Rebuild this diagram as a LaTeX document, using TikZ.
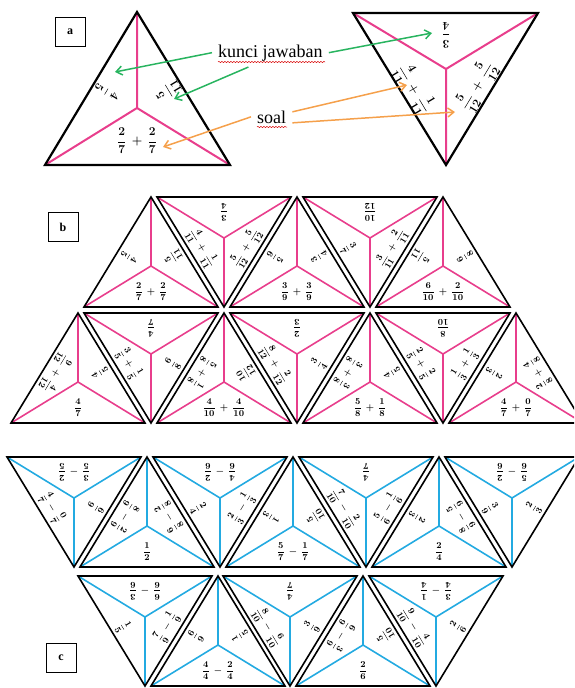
\documentclass[tikz,border=0pt]{standalone}
\usepackage{amsmath}
\usepackage{fontspec}
\setmainfont{Liberation Serif}
\usetikzlibrary{arrows.meta,decorations.pathmorphing}
\definecolor{pinkline}{RGB}{232,62,140}
\definecolor{blauline}{RGB}{35,170,225}
\definecolor{kjgruen}{RGB}{40,180,95}
\definecolor{soalorange}{RGB}{245,160,75}

\begin{document}
\begin{tikzpicture}[x=1pt, y=-1pt,
				>={Straight Barb[length=6pt,width=9pt]},   %Pfeilspitzen
				rand/.style={draw=black, line width=1.6pt, line join=miter},
				speiche/.style={line width=1.6pt},
				bruch/.style={inner sep=0pt, font=\boldmath\fontsize{9.5}{11}\selectfont},
				grossbruch/.style={inner sep=0pt, font=\boldmath\fontsize{12.5}{14}\selectfont},
				kasten/.style={draw, line width=0.8pt, minimum width=30pt, minimum height=29pt, font=\bfseries\fontsize{12}{14}\selectfont},
				hinweis/.style={inner sep=6pt, font=\fontsize{18}{20}\selectfont},
				wellig/.style={draw=red!85!black, line width=0.5pt, decorate, decoration={snake, amplitude=0.6pt, segment length=3pt}},
				kjpfeil/.style={->, draw=kjgruen, line width=1.5pt},
				soalpfeil/.style={->, draw=soalorange, line width=1.5pt}]
				\useasboundingbox (0,0) rectangle (574,688);
				\clip (0,0) rectangle (574,688); %Bildbereich
				% Teil a: Stein mit Spitze oben
				\coordinate (aL-o) at (137,12);
				\coordinate (aL-l) at (45,165);
				\coordinate (aL-r) at (230,165);
				\coordinate (aL-m) at (137,108);
				\draw[speiche, pinkline, line width=2pt] (aL-m) -- (aL-o) (aL-m) -- (aL-l) (aL-m) -- (aL-r);
				\draw[rand, line width=2.2pt] (aL-o) -- (aL-l) -- (aL-r) -- cycle;
				\node[grossbruch, rotate=-121] (aL-1) at (107,92) {$\dfrac{4}{5}$};
				\node[grossbruch, rotate=121] (aL-2) at (168,91) {$\dfrac{5}{11}$};
				\node[grossbruch] (aL-3) at (137,141) {$\dfrac{2}{7}\,+\,\dfrac{2}{7}$};
				% Teil a: Stein mit Spitze unten
				\coordinate (aR-l) at (353,13);
				\coordinate (aR-r) at (538,13);
				\coordinate (aR-u) at (446,165);
				\coordinate (aR-m) at (446,69);
				\draw[speiche, pinkline, line width=2pt] (aR-m) -- (aR-l) (aR-m) -- (aR-r) (aR-m) -- (aR-u);
				\draw[rand, line width=2.2pt] (aR-l) -- (aR-r) -- (aR-u) -- cycle;
				\node[grossbruch, rotate=180] (aR-1) at (446,35) {$\dfrac{3}{4}$};
				\node[grossbruch, rotate=-59] (aR-2) at (414,89) {$\dfrac{4}{11}\,+\,\dfrac{1}{11}$};
				\node[grossbruch, rotate=59] (aR-3) at (477,86) {$\dfrac{5}{12}\,+\,\dfrac{5}{12}$};
				% Beschriftung mit Pfeilen
				\node[hinweis, anchor=base west] (kj) at (212,57) {kunci jawaban};
				\node[hinweis, anchor=base west] (soal) at (251,123) {soal};
				\draw[wellig] (218,62) -- (325,62);
				\draw[wellig] (257,127) -- (287,127);
				\coordinate (ziel1) at (115,72);
				\coordinate (ziel2) at (174,99);
				\coordinate (ziel3) at (432,33);
				\coordinate (ziel4) at (163,147);
				\coordinate (ziel5) at (407,85);
				\coordinate (ziel6) at (455,112);
				\draw[kjpfeil] (kj.west) -- (ziel1);
				\draw[kjpfeil] ([xshift=-22pt]kj.south) -- (ziel2);
				\draw[kjpfeil] (kj.east) -- (ziel3);
				\draw[soalpfeil] (soal.west) -- (ziel4);
				\draw[soalpfeil] ([yshift=5pt]soal.east) -- (ziel5);
				\draw[soalpfeil] ([yshift=-6pt]soal.east) -- (ziel6);
				% Teile b und c: Steine mit Spitze oben
				\foreach \x/\y/\f/\n/\lt/\rt/\bt in {
					151/197/pinkline/b1a/{$\dfrac{4}{5}$}/{$\dfrac{5}{11}$}/{$\dfrac{2}{7}\,+\,\dfrac{2}{7}$},
					297/197/pinkline/b1c/{$\dfrac{5}{6}$}/{$\dfrac{3}{4}$}/{$\dfrac{3}{9}\,+\,\dfrac{3}{9}$},
					443/197/pinkline/b1e/{$\dfrac{5}{11}$}/{$\dfrac{6}{8}$}/{$\dfrac{6}{10}\,+\,\dfrac{2}{10}$},
					78/313/pinkline/b2a/{$\dfrac{9}{12}\,+\,\dfrac{4}{12}$}/{$\dfrac{4}{5}$}/{$\dfrac{4}{7}$},
					224/313/pinkline/b2c/{$\dfrac{5}{8}\,+\,\dfrac{1}{8}$}/{$\dfrac{10}{12}$}/{$\dfrac{4}{10}\,+\,\dfrac{4}{10}$},
					370/313/pinkline/b2e/{$\dfrac{3}{8}\,+\,\dfrac{3}{8}$}/{$\dfrac{4}{5}$}/{$\dfrac{5}{8}\,+\,\dfrac{1}{8}$},
					516/313/pinkline/b2g/{$\dfrac{2}{3}$}/{$\dfrac{2}{8}\,+\,\dfrac{4}{8}$}/{$\dfrac{4}{7}\,+\,\dfrac{0}{7}$},
					147/457/blauline/c1b/{$\dfrac{8}{9}\,-\,\dfrac{2}{9}$}/{$\dfrac{6}{8}\,-\,\dfrac{2}{8}$}/{$\dfrac{1}{2}$},
					293/457/blauline/c1d/{$\dfrac{1}{3}$}/{$\dfrac{5}{10}$}/{$\dfrac{5}{7}\,-\,\dfrac{1}{7}$},
					439/457/blauline/c1f/{$\dfrac{2}{3}$}/{$\dfrac{8}{9}\,-\,\dfrac{5}{9}$}/{$\dfrac{2}{4}$},
					218/576/blauline/c2b/{$\dfrac{6}{9}$}/{$\dfrac{1}{5}$}/{$\dfrac{4}{4}\,-\,\dfrac{2}{4}$},
					363/576/blauline/c2d/{$\dfrac{6}{9}\,-\,\dfrac{3}{9}$}/{$\dfrac{5}{10}$}/{$\dfrac{2}{6}$}}{
					\coordinate (\n-o) at (\x,\y);
					\coordinate (\n-l) at (\x-67,\y+110);
					\coordinate (\n-r) at (\x+67,\y+110);
					\coordinate (\n-m) at (\x,\y+69);
					\draw[speiche, \f] (\n-m) -- (\n-o) (\n-m) -- (\n-l) (\n-m) -- (\n-r);
					\draw[rand] (\n-o) -- (\n-l) -- (\n-r) -- cycle;
					\node[bruch, rotate=-121] (\n-1) at (\x-22,\y+60) {\lt};
					\node[bruch, rotate=121] (\n-2) at (\x+22,\y+60) {\rt};
					\node[bruch] (\n-3) at (\x,\y+95) {\bt};
				}
				% Teile b und c: Steine mit Spitze unten
				\foreach \x/\y/\f/\n/\tt/\lt/\rt in {
					224/197/pinkline/b1b/{$\dfrac{3}{4}$}/{$\dfrac{4}{11}\,+\,\dfrac{1}{11}$}/{$\dfrac{5}{12}\,+\,\dfrac{5}{12}$},
					370/197/pinkline/b1d/{$\dfrac{10}{12}$}/{$\dfrac{3}{7}$}/{$\dfrac{3}{11}\,+\,\dfrac{2}{11}$},
					151/313/pinkline/b2b/{$\dfrac{4}{7}$}/{$\dfrac{3}{5}\,+\,\dfrac{1}{5}$}/{$\dfrac{6}{8}$},
					297/313/pinkline/b2d/{$\dfrac{2}{3}$}/{$\dfrac{8}{12}\,+\,\dfrac{2}{12}$}/{$\dfrac{3}{4}$},
					443/313/pinkline/b2f/{$\dfrac{8}{10}$}/{$\dfrac{2}{5}\,+\,\dfrac{2}{5}$}/{$\dfrac{1}{3}\,+\,\dfrac{1}{3}$},
					74/457/blauline/c1a/{$\dfrac{3}{5}\,-\,\dfrac{2}{5}$}/{$\dfrac{4}{7}\,-\,\dfrac{0}{7}$}/{$\dfrac{6}{9}$},
					220/457/blauline/c1c/{$\dfrac{4}{6}\,-\,\dfrac{2}{6}$}/{$\dfrac{2}{4}$}/{$\dfrac{2}{3}\,-\,\dfrac{1}{3}$},
					366/457/blauline/c1e/{$\dfrac{4}{7}$}/{$\dfrac{7}{10}\,-\,\dfrac{2}{10}$}/{$\dfrac{5}{6}\,-\,\dfrac{1}{6}$},
					512/457/blauline/c1g/{$\dfrac{5}{6}\,-\,\dfrac{2}{6}$}/{$\dfrac{3}{9}$}/{$\dfrac{2}{3}$},
					145/576/blauline/c2a/{$\dfrac{6}{6}\,-\,\dfrac{3}{6}$}/{$\dfrac{1}{5}$}/{$\dfrac{7}{9}\,-\,\dfrac{1}{9}$},
					290/576/blauline/c2c/{$\dfrac{4}{7}$}/{$\dfrac{8}{10}\,-\,\dfrac{6}{10}$}/{$\dfrac{3}{9}$},
					436/576/blauline/c2e/{$\dfrac{3}{4}\,-\,\dfrac{1}{4}$}/{$\dfrac{9}{10}\,-\,\dfrac{4}{10}$}/{$\dfrac{2}{6}$}}{
					\coordinate (\n-l) at (\x-67,\y);
					\coordinate (\n-r) at (\x+67,\y);
					\coordinate (\n-u) at (\x,\y+110);
					\coordinate (\n-m) at (\x,\y+41);
					\draw[speiche, \f] (\n-m) -- (\n-l) (\n-m) -- (\n-r) (\n-m) -- (\n-u);
					\draw[rand] (\n-l) -- (\n-r) -- (\n-u) -- cycle;
					\node[bruch, rotate=180] (\n-1) at (\x,\y+15) {\tt};
					\node[bruch, rotate=-59] (\n-2) at (\x-22,\y+51) {\lt};
					\node[bruch, rotate=59] (\n-3) at (\x+22,\y+51) {\rt};
				}
				% Teilbeschriftung
				\node[kasten] (teil-a) at (70,32) {a};
				\node[kasten] (teil-b) at (63,227) {b};
				\node[kasten] (teil-c) at (61,658) {c};
\end{tikzpicture}
\end{document}
